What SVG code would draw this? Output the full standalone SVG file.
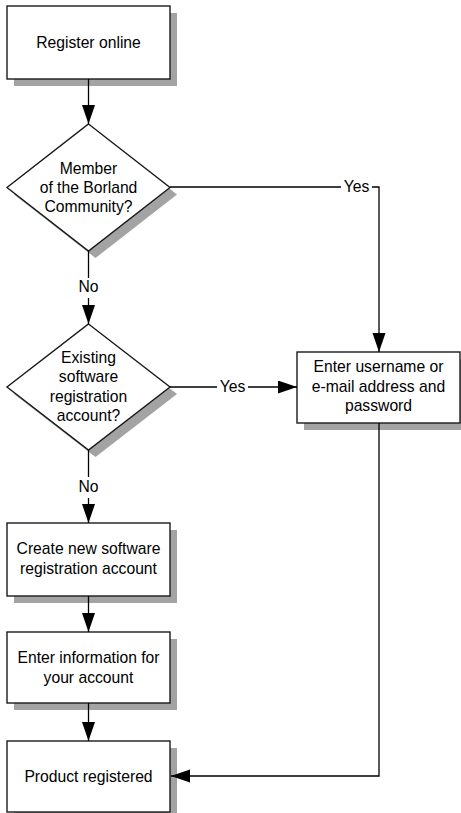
<svg xmlns="http://www.w3.org/2000/svg" width="461" height="813" viewBox="0 0 461 813">
<style>
.box{fill:#fff;stroke:#1a1a1a;stroke-width:1.4}
.sh{fill:#a3a3a3;stroke:none}
.t{font-family:"Liberation Sans",Arial,sans-serif;font-size:15.7px;fill:#000;text-anchor:middle}
.ln{fill:none;stroke:#000;stroke-width:1.3}
</style>
<defs>
<marker id="ah" markerUnits="userSpaceOnUse" markerWidth="20" markerHeight="14" refX="19" refY="6.5" orient="auto">
<path d="M0,0 L19,6.5 L0,13 z" fill="#000"/>
</marker>
</defs>
<rect width="461" height="813" fill="#fff"/>
<g id="n1">
<rect class="sh" x="14" y="13" width="163" height="73"/>
<rect class="box" x="7" y="6" width="163" height="73"/>
<text class="t" x="88.5" y="48">Register online</text>
</g>
<g id="d1">
<polygon class="sh" points="95.5,131 177,194.5 95.5,258 14,194.5"/>
<polygon class="box" points="88.5,124 170,187.5 88.5,251 7,187.5"/>
<text class="t" x="88.5" y="174">Member</text>
<text class="t" x="88.5" y="193">of the Borland</text>
<text class="t" x="88.5" y="212">Community?</text>
</g>
<g id="d2">
<polygon class="sh" points="95.5,331 177,394 95.5,457 14,394"/>
<polygon class="box" points="88.5,324 170,387 88.5,450 7,387"/>
<text class="t" x="88.5" y="363">Existing</text>
<text class="t" x="88.5" y="382">software</text>
<text class="t" x="88.5" y="401.5">registration</text>
<text class="t" x="88.5" y="420.5">account?</text>
</g>
<g id="n2">
<rect class="sh" x="304" y="359" width="163" height="71"/>
<rect class="box" x="297" y="352" width="163" height="71"/>
<text class="t" x="378.5" y="372">Enter username or</text>
<text class="t" x="378.5" y="391.5">e-mail address and</text>
<text class="t" x="378.5" y="411">password</text>
</g>
<g id="n3">
<rect class="sh" x="14" y="530" width="163" height="73"/>
<rect class="box" x="7" y="523" width="163" height="73"/>
<text class="t" x="88.5" y="554">Create new software</text>
<text class="t" x="88.5" y="574">registration account</text>
</g>
<g id="n4">
<rect class="sh" x="14" y="639" width="163" height="71"/>
<rect class="box" x="7" y="632" width="163" height="71"/>
<text class="t" x="88.5" y="663">Enter information for</text>
<text class="t" x="88.5" y="683">your account</text>
</g>
<g id="n5">
<rect class="sh" x="14" y="748" width="163" height="71"/>
<rect class="box" x="7" y="741" width="163" height="71"/>
<text class="t" x="88.5" y="782">Product registered</text>
</g>
<g id="connectors">
<line class="ln" x1="88.5" y1="79" x2="88.5" y2="124" marker-end="url(#ah)"/>
<polyline class="ln" points="170,187 341,187"/>
<text class="t" x="356.5" y="192">Yes</text>
<polyline class="ln" points="372,187 379,187 379,352" marker-end="url(#ah)"/>
<line class="ln" x1="88.5" y1="251" x2="88.5" y2="278"/>
<text class="t" x="88.5" y="292">No</text>
<line class="ln" x1="88.5" y1="298" x2="88.5" y2="324" marker-end="url(#ah)"/>
<line class="ln" x1="170" y1="387" x2="217" y2="387"/>
<text class="t" x="232.5" y="392">Yes</text>
<line class="ln" x1="248" y1="387" x2="297" y2="387" marker-end="url(#ah)"/>
<line class="ln" x1="88.5" y1="450" x2="88.5" y2="477"/>
<text class="t" x="88.5" y="492">No</text>
<line class="ln" x1="88.5" y1="498" x2="88.5" y2="523" marker-end="url(#ah)"/>
<line class="ln" x1="88.5" y1="596" x2="88.5" y2="632" marker-end="url(#ah)"/>
<line class="ln" x1="88.5" y1="703" x2="88.5" y2="741" marker-end="url(#ah)"/>
<polyline class="ln" points="379,423 379,776 171,776" marker-end="url(#ah)"/>
</g>
</svg>
